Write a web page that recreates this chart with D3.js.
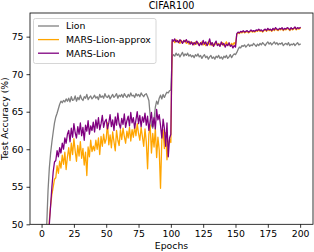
<!DOCTYPE html>
<html>
<head>
<meta charset="utf-8">
<script src="https://cdn.jsdelivr.net/npm/d3@7"></script>
<style>
  body { margin: 0; background: #fff; }
  text { font-family: "DejaVu Sans", sans-serif; fill: #000; }
</style>
</head>
<body>
<script>
//epochs 1..200 along the x axis
const epochs = d3.range(1, 201)

//test accuracy of Lion
const lionAcc = [
  30, 38, 45, 50, 54.5, 57.5, 59.5, 61, 62.3, 63.5,
  64.3, 64.8, 65.4, 66.0, 66.4, 66.2, 66.5, 66.3, 66.7, 66.4,
  66.8, 66.3, 67.0, 66.5, 66.6, 67.1, 66.4, 66.9, 66.6, 67.2,
  66.7, 66.5, 67.0, 66.8, 67.3, 66.6, 66.9, 67.1, 66.7, 66.9,
  67.2, 66.8, 67.0, 66.6, 67.3, 66.9, 67.1, 66.8, 67.4, 67.0,
  66.9, 67.2, 66.7, 67.0, 67.3, 66.9, 67.1, 67.4, 66.8, 67.2,
  67.0, 67.3, 66.9, 67.4, 67.1, 66.9, 67.3, 67.0, 67.5, 67.1,
  67.2, 66.9, 67.4, 67.1, 67.3, 67.0, 67.5, 67.2, 67.0, 67.3,
  67.4, 67.0, 66.5, 64.5, 63.2, 62.8, 64.0, 65.6, 66.4, 66.0,
  66.8, 67.2, 66.7, 67.3, 66.9, 67.3, 67.6, 67.5, 67.8, 67.9,
  72.3, 72.6, 72.4, 72.8, 72.5, 72.7, 72.3, 72.6, 72.9, 72.4,
  72.7, 72.5, 72.8, 72.4, 72.6, 72.3, 72.5, 72.2, 72.6, 72.4,
  72.7, 72.3, 72.5, 72.1, 72.4, 72.6, 72.2, 72.4, 72.0, 72.3,
  72.5, 72.1, 72.3, 72.0, 72.4, 72.2, 72.5, 72.1, 72.3, 72.0,
  72.4, 72.2, 72.5, 72.1, 72.3, 72.6, 72.2, 72.5, 72.7, 72.6,
  72.9, 73.3, 73.6, 73.5, 73.8, 73.7, 73.9, 73.6, 73.8, 74.0,
  73.7, 73.9, 73.8, 74.1, 73.9, 73.7, 74.0, 73.8, 74.1, 73.9,
  74.2, 74.0, 73.8, 74.1, 74.3, 74.0, 74.2, 73.9, 74.1, 74.3,
  74.0, 74.2, 73.9, 74.1, 74.0, 74.2, 73.8, 74.0, 74.1, 73.9,
  74.2, 73.8, 74.0, 73.9, 74.1, 73.8, 74.0, 74.2, 73.9, 74.0
]

//test accuracy of MARS-Lion-approx
const marsApproxAcc = [
  20, 28, 35, 41, 46, 50.5, 52.5, 54, 55, 56,
  56.2, 57.8, 56.8, 58.4, 57.5, 59.2, 58.0, 59.6, 57.3, 59.0,
  60.2, 58.5, 60.8, 59.3, 61.4, 59.8, 58.4, 60.5, 59.1, 61.0,
  58.8, 60.1, 57.9, 59.6, 56.5, 60.3, 59.0, 61.2, 59.7, 60.4,
  59.8, 61.2, 60.0, 61.5, 59.3, 61.7, 60.4, 62.0, 60.8, 61.4,
  63.5, 60.6, 61.9, 60.2, 62.3, 61.0, 59.8, 62.5, 61.2, 60.5,
  62.6, 61.3, 62.8, 61.7, 60.8, 62.4, 61.5, 62.9, 61.1, 62.6,
  61.6, 63.0, 61.8, 63.4, 62.1, 61.2, 62.9, 61.7, 60.4, 62.7,
  61.0, 57.4, 62.0, 63.2, 59.5, 62.1, 60.3, 62.8, 58.9, 61.6,
  59.9, 54.8, 61.2, 62.6, 60.1, 62.2, 58.6, 60.5, 61.3, 60.9,
  74.3, 74.5, 74.2, 74.6, 74.3, 74.4, 74.1, 74.5, 74.2, 74.3,
  74.5, 74.1, 74.4, 74.0, 74.3, 74.1, 74.2, 73.9, 74.3, 74.0,
  74.2, 73.9, 74.1, 74.3, 73.9, 74.2, 73.8, 74.1, 74.3, 73.9,
  74.2, 73.8, 74.0, 73.9, 74.2, 73.9, 74.1, 73.8, 74.0, 74.2,
  73.8, 74.0, 74.3, 73.9, 74.0, 73.8, 74.1, 73.9, 74.2, 73.9,
  75.3, 75.5, 75.4, 75.6, 75.5, 75.7, 75.5, 75.6, 75.7, 75.5,
  75.6, 75.8, 75.6, 75.7, 75.6, 75.8, 75.7, 75.9, 75.7, 75.8,
  75.6, 75.8, 75.9, 75.7, 76.0, 75.8, 75.9, 75.7, 76.0, 75.8,
  76.0, 75.9, 75.8, 76.0, 75.9, 76.1, 75.8, 76.0, 75.9, 76.1,
  76.0, 75.8, 76.1, 75.9, 76.0, 76.2, 75.9, 76.1, 76.0, 76.1
]

//test accuracy of MARS-Lion
const marsAcc = [
  25, 32, 38, 43, 47, 50, 52.5, 55, 57, 58.3,
  58.5, 59.8, 59.0, 60.2, 59.5, 60.8, 60.0, 61.5, 60.8, 62.0,
  62.5, 61.0, 62.8, 61.6, 63.4, 62.2, 61.5, 63.0, 62.0, 63.5,
  61.8, 62.9, 61.2, 63.2, 62.4, 63.8, 62.0, 63.1, 62.5, 63.6,
  62.3, 63.9, 62.8, 64.2, 62.6, 63.4, 64.5, 62.9, 63.7, 64.0,
  62.7, 63.5, 64.6, 63.0, 63.9, 62.5, 64.3, 63.2, 64.8, 63.4,
  62.8, 64.1, 63.3, 64.7, 62.9, 63.8, 64.4, 63.1, 64.9, 63.5,
  64.2, 62.8, 63.9, 65.0, 63.4, 64.5, 63.0, 64.3, 63.6, 64.8,
  63.2, 64.4, 62.5, 63.8, 64.9, 63.0, 64.2, 62.7, 65.3, 63.9,
  64.6, 63.2, 61.5, 64.0, 62.8, 60.4, 63.5, 59.0, 61.5, 62.0,
  74.6, 74.4, 74.7, 74.3, 74.5, 74.2, 74.6, 74.4, 74.1, 74.5,
  74.3, 74.6, 74.2, 74.4, 74.0, 74.3, 73.9, 74.2, 74.0, 74.4,
  74.1, 73.8, 74.2, 73.9, 74.5, 74.0, 74.3, 73.8, 74.1, 74.7,
  73.9, 74.2, 73.7, 74.1, 74.4, 73.8, 74.0, 73.7, 74.3, 73.9,
  74.1, 73.6, 74.0, 73.8, 74.2, 73.7, 73.9, 73.5, 73.8, 73.6,
  75.4, 75.6, 75.5, 75.7, 75.6, 75.8, 75.6, 75.7, 75.8, 75.6,
  75.7, 75.9, 75.7, 75.8, 75.7, 75.9, 75.8, 76.0, 75.8, 75.9,
  75.7, 75.9, 76.0, 75.8, 76.1, 75.9, 76.0, 75.8, 76.1, 75.9,
  76.2, 76.0, 75.9, 76.1, 76.0, 76.2, 75.9, 76.1, 76.0, 76.2,
  76.1, 75.9, 76.2, 76.0, 76.1, 76.3, 76.0, 76.2, 76.1, 76.2
]

//tick labels for both axes
const xTicks = [0, 25, 50, 75, 100, 125, 150, 175, 200]
const yTicks = [50, 55, 60, 65, 70, 75]

//series names and colours in drawing order (last one ends up on top)
const seriesNames = ['Lion', 'MARS-Lion-approx', 'MARS-Lion']
const seriesColors = ['gray', 'orange', 'purple']

render()

function render() {
  const width = 314
  const height = 252

  const svg = d3.select('body')
    .append('svg')
    .attr('width', width)
    .attr('height', height)

  //margin object for the axes area
  const margin = { top: 13, bottom: 27.7, left: 30, right: 1 }
  const innerWidth = width - (margin.left + margin.right)
  const innerHeight = height - (margin.top + margin.bottom)

  //matplotlib style 5% padding on x
  const xScale = d3.scaleLinear()
    .domain([1 - 199 * 0.05, 200 + 199 * 0.05])
    .range([0, innerWidth])

  const yScale = d3.scaleLinear()
    .domain([50, 78.15])
    .range([innerHeight, 0])

  const g = svg.append('g')
    .attr('transform', `translate(${margin.left},${margin.top})`)

  //clip the lines to the plot area
  g.append('clipPath')
    .attr('id', 'clip')
    .append('rect')
      .attr('width', innerWidth)
      .attr('height', innerHeight)

  const series = [lionAcc, marsApproxAcc, marsAcc]

  const line = d3.line()
    .x((d, i) => xScale(epochs[i]))
    .y(d => yScale(d))

  g.append('g')
    .attr('clip-path', 'url(#clip)')
    .selectAll('path')
    .data(series)
    .enter()
    .append('path')
      .attr('d', line)
      .attr('fill', 'none')
      .attr('stroke', (d, i) => seriesColors[i])
      .attr('stroke-width', 1.3)
      .attr('stroke-linejoin', 'round')
      .attr('stroke-linecap', 'square')

  //x axis
  const xAxis = d3.axisBottom(xScale)
    .tickValues(xTicks)
    .tickSize(3.5)
    .tickPadding(3)

  const xg = g.append('g').call(xAxis)
    .attr('transform', `translate(0,${innerHeight})`)
  xg.select('.domain').remove()
  xg.selectAll('text')
    .attr('font-size', 9.3)
    .attr('font-family', 'DejaVu Sans')

  //y axis
  const yAxis = d3.axisLeft(yScale)
    .tickValues(yTicks)
    .tickSize(3.5)
    .tickPadding(3)

  const yg = g.append('g').call(yAxis)
  yg.select('.domain').remove()
  yg.selectAll('text')
    .attr('font-size', 9.3)
    .attr('font-family', 'DejaVu Sans')

  g.selectAll('.tick line').attr('stroke-width', 0.8)

  //axes frame
  g.append('rect')
    .attr('width', innerWidth)
    .attr('height', innerHeight)
    .attr('fill', 'none')
    .attr('stroke', '#000')
    .attr('stroke-width', 0.8)

  //title
  g.append('text')
    .text('CIFAR100')
      .attr('text-anchor', 'middle')
      .attr('x', innerWidth / 2)
      .attr('y', -4)
      .attr('font-size', 9.6)

  //axis labels
  g.append('text')
    .text('Epochs')
      .attr('text-anchor', 'middle')
      .attr('x', innerWidth / 2)
      .attr('y', innerHeight + 24.5)
      .attr('font-size', 9.3)

  g.append('text')
    .text('Test Accuracy (%)')
      .attr('text-anchor', 'middle')
      .attr('transform', `translate(${-margin.left + 7.5},${innerHeight / 2}) rotate(-90)`)
      .attr('font-size', 9.3)

  //legend box
  const legend = g.append('g')
    .attr('transform', 'translate(3.5,5.5)')

  legend.append('rect')
    .attr('width', 122.5)
    .attr('height', 45)
    .attr('rx', 2)
    .attr('fill', 'rgba(255,255,255,0.8)')
    .attr('stroke', '#cccccc')
    .attr('stroke-width', 0.8)

  const rows = legend.selectAll('.row')
    .data(seriesNames)
    .enter()
    .append('g')
      .attr('class', 'row')
      .attr('transform', (d, i) => `translate(0,${7.5 + i * 13.6})`)

  rows.append('line')
    .attr('x1', 4.5)
    .attr('x2', 25.5)
    .attr('stroke', (d, i) => seriesColors[i])
    .attr('stroke-width', 1.3)

  rows.append('text')
    .text(d => d)
      .attr('x', 32.5)
      .attr('y', 3.4)
      .attr('font-size', 9.3)
}
</script>
</body>
</html>
